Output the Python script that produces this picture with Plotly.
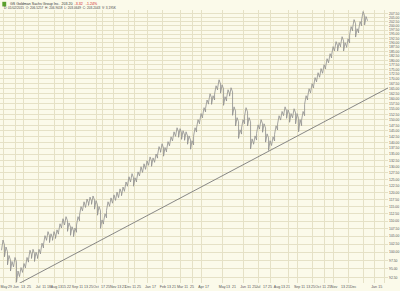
import plotly.graph_objects as go

# ---- data (one bar per ~3 px) ----
highs = [103.8, 101.6, 99.0, 97.2, 98.4, 94.4, 95.4, 96.6, 98.4, 100.6,
         100.9, 100.0, 100.9, 102.8, 105.2, 106.5, 105.8, 106.5, 107.1, 109.1,
         110.8, 111.5, 109.4, 108.1, 107.7, 111.5, 115.0, 116.7, 117.7, 118.4,
         118.8, 117.1, 115.0, 110.4, 112.5, 116.7, 118.1, 119.2, 120.2, 121.4,
         122.1, 124.0, 126.0, 127.2, 125.6, 127.9, 129.9, 131.1, 132.3, 133.9,
         133.5, 135.1, 138.2, 139.4, 137.8, 140.3, 142.4, 144.6, 146.4, 146.0,
         145.1, 144.6, 142.8, 140.7, 146.4, 150.1, 152.9, 155.7, 159.4, 162.5,
         161.5, 166.5, 169.6, 167.0, 161.0, 164.5, 165.5, 156.1, 151.0, 145.5,
         150.1, 155.7, 151.0, 141.5, 142.8, 147.7, 150.1, 148.2, 143.7, 140.7,
         142.4, 147.3, 151.9, 153.9, 156.1, 154.7, 152.9, 155.2, 152.9, 150.1,
         153.9, 161.5, 165.0, 167.6, 170.7, 173.3, 175.5, 177.6, 180.9, 183.7,
         187.7, 190.6, 190.0, 193.5, 190.0, 192.3, 199.6, 203.9, 198.3, 202.7,
         209.0, 205.8]
lows = [100.6, 98.6, 96.2, 94.4, 95.6, 91.2, 92.8, 94.0, 95.6, 97.8,
        98.1, 97.2, 98.1, 99.8, 102.4, 103.7, 103.0, 103.7, 104.3, 106.3,
        108.0, 108.7, 106.6, 105.3, 104.9, 108.7, 112.0, 113.7, 114.7, 115.4,
        115.8, 114.1, 112.0, 107.6, 109.7, 113.7, 115.1, 116.2, 117.2, 118.2,
        118.9, 120.8, 122.8, 124.0, 122.4, 124.7, 126.5, 127.7, 128.9, 130.5,
        130.1, 131.7, 134.6, 135.8, 134.2, 136.7, 138.8, 140.9, 142.6, 142.2,
        141.3, 140.9, 139.2, 137.1, 142.6, 146.3, 148.9, 151.7, 155.4, 158.3,
        157.3, 162.3, 165.2, 162.8, 156.8, 160.3, 161.3, 152.1, 147.2, 141.7,
        146.3, 151.7, 147.2, 137.2, 139.2, 143.9, 146.3, 144.4, 140.1, 136.6,
        138.8, 143.5, 148.1, 149.9, 152.1, 150.7, 148.9, 151.2, 148.2, 144.6,
        149.9, 157.3, 160.8, 163.2, 166.3, 168.9, 170.9, 173.0, 176.3, 178.9,
        182.9, 185.8, 185.2, 188.5, 185.2, 187.3, 194.4, 198.7, 193.3, 197.5,
        203.6, 200.6]
bars = list(range(len(highs)))

trend_x = [5, 128.3]
trend_y = [90.7, 165.4]

ytick_vals = [92.5 + 2.5 * k for k in range(47)]
ytick_text = ["%.2f" % v for v in ytick_vals]

xtick_pos = [0.3, 2.3, 4.3, 6.7, 8.7, 11.7, 13.7, 15.3, 17, 19, 20.3, 22,
             24, 26, 27.7, 29.3, 31, 33.3, 35, 36.7, 38.7, 40.3, 41.7, 43.7,
             45.3, 48.3, 50.3, 53.3, 55.3, 57, 59, 61, 63, 66, 68, 73,
             75, 77, 80, 82, 83.7, 85, 87.3, 89, 91.3, 93.3, 95, 98,
             100, 101.7, 103.3, 105, 107, 108.7, 110.3, 113.3, 115, 116.7, 123.7, 125.7]
xtick_text = ["May", "29", "Jun", "13", "25", "Jul", "11", "18", "Aug", "13", "15", "22",
              "Sep", "11", "13", "25", "Oct", "17", "25", "Nov", "13", "21", "Dec", "11",
              "25", "Jan", "17", "Feb", "13", "21", "Mar", "11", "25", "Apr", "17", "May",
              "13", "21", "Jun", "11", "25", "Jul", "17", "25", "Aug", "13", "21", "Sep",
              "11", "13", "25", "Oct", "11", "25", "Nov", "13", "21", "Dec", "Jan", "15"]
grid_x = [0.3, 4.3, 6.7, 11.7, 17, 20.3, 24, 31, 33.3, 36.7, 41.7, 43.7, 48.3,
          53.3, 59, 63, 66, 73, 80, 85, 89, 95, 98, 103.3, 107, 110.3, 115,
          120, 123.7, 127]

BG = "#FBFAEA"
GRID = "#E5E1C6"

# saw-tooth path through each bar's low and high (dense daily-bar look)
zz_x, zz_y = [], []
for b, h, l in zip(bars, highs, lows):
    zz_x += [b - 0.5, b, b + 0.5]
    zz_y += [l, h, (l + h) / 2]

fig = go.Figure()
fig.add_trace(go.Scatter(x=zz_x, y=zz_y, mode="lines",
                         line=dict(color="#8e8e8e", width=0.8), hoverinfo="skip"))
fig.add_trace(go.Scatter(x=trend_x, y=trend_y, mode="lines",
                         line=dict(color="#7a7a7a", width=0.9), hoverinfo="skip"))
# invisible trace for grid x-axis
fig.add_trace(go.Scatter(x=[0], y=[100], xaxis="x2", mode="markers",
                         marker=dict(opacity=0), hoverinfo="skip"))

fig.update_layout(
    width=400, height=291,
    margin=dict(l=0, r=12, t=10, b=8),
    paper_bgcolor=BG, plot_bgcolor=BG,
    showlegend=False,
    font=dict(family="Liberation Sans, Arial, sans-serif", size=4, color="#444"),
    xaxis=dict(range=[-1, 128.3], tickmode="array", tickvals=xtick_pos,
               ticktext=xtick_text, showgrid=False, zeroline=False, tickangle=0,
               ticks="", tickfont=dict(size=3.6, color="#555"), ticklen=0,
               showline=False),
    xaxis2=dict(range=[-1, 128.3], overlaying="x", tickmode="array",
                tickvals=grid_x, showticklabels=False, showgrid=True,
                gridcolor=GRID, gridwidth=1, zeroline=False, ticks=""),
    yaxis=dict(type="log", range=[1.95904, 2.32222], side="right",
               tickmode="array", tickvals=ytick_vals, ticktext=ytick_text,
               showgrid=True, gridcolor=GRID, gridwidth=1, zeroline=False,
               ticks="", tickfont=dict(size=3.4, color="#555"), ticklen=0),
)

fig.add_shape(type="rect", xref="paper", yref="paper", x0=0.006, x1=0.016,
              y0=1.013, y1=1.030, fillcolor="#5aa02c", line=dict(width=0))
fig.add_annotation(xref="paper", yref="paper", x=0.02, y=1.022, xanchor="left",
                   yanchor="middle", showarrow=False,
                   text="GS Goldman Sachs Group Inc.  203.20  <span style='color:#d02020'>-3.32   -1.24%</span>",
                   font=dict(size=3.6, color="#333"))
fig.add_annotation(xref="paper", yref="paper", x=0.004, y=1.006, xanchor="left",
                   yanchor="middle", showarrow=False,
                   text="D: 01/02/2015  O: 206.5257  H: 206.9018  L: 203.0649  C: 203.2043  V: 3,195K",
                   font=dict(size=3.2, color="#444"))

fig.write_html("out.html")
